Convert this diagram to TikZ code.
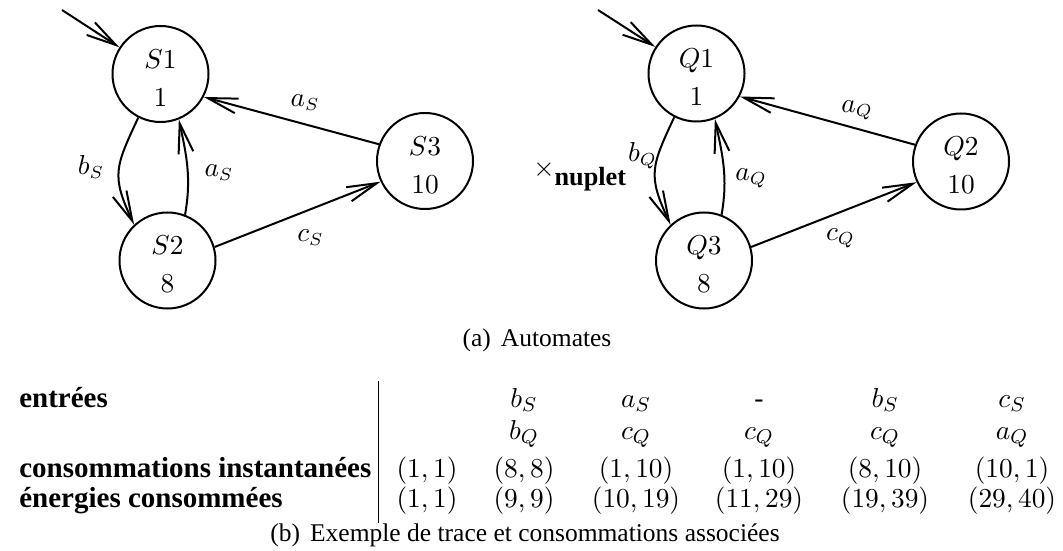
\documentclass[tikz,border=0pt]{standalone}
\usepackage[no-math]{fontspec}
\setmainfont{Liberation Serif}
\usetikzlibrary{arrows.meta}

\begin{document}
\begin{tikzpicture}[x=0.4pt,y=-0.4pt,line width=0.8pt,>={Straight Barb[length=12pt,width=6pt]},
  etat/.style={circle,draw,minimum size=38.4pt,inner sep=0pt,align=center,font=\fontsize{10.5}{15.2}\selectfont},
  lbl/.style={font=\fontsize{10.5}{12.6}\selectfont},
  cell/.style={anchor=base,font=\fontsize{11}{13}\selectfont},
  rowlbl/.style={anchor=base west,font=\fontsize{11.6}{14}\selectfont\bfseries},
  capt/.style={anchor=base,font=\fontsize{10.2}{12}\selectfont}]
  \useasboundingbox (0,0) rectangle (1063,551);
  % automate S
  \node[etat] (S1) at (160.5,74){\rule{0pt}{10.5pt}$S1$\\$1$};
  \node[etat] (S2) at (167.5,260.5){\rule{0pt}{10.5pt}$S2$\\$8$};
  \node[etat] (S3) at (425,161){\rule{0pt}{10.5pt}$S3$\\$10$};
  \coordinate (iS) at (62,10);
  \draw[->] (iS)--(S1);
  \draw[->] (S1.-117) to[out=-115,in=115,looseness=1.3] (S2.133);
  \draw[->] (S2.69.5) to[out=80,in=-78] (S1.-68.5);
  \draw[->] (S3.160)--(S1.-28);
  \draw[->] (S2.16)--(S3.205);
  \node[lbl] (bS) at (91,167){$b_S$};
  \node[lbl] (aS) at (219,172.5){$a_S$};
  \node[lbl] (aS3) at (305,103){$a_S$};
  \node[lbl] (cS) at (310.5,237.5){$c_S$};
  % produit
  \node[lbl,anchor=base west] (prod) at (524,177){$\times_{\textbf{nuplet}}$};
  % automate Q
  \node[etat] (Q1) at (696.5,73.5){\rule{0pt}{10.5pt}$Q1$\\$1$};
  \node[etat] (Q3) at (704,260.5){\rule{0pt}{10.5pt}$Q3$\\$8$};
  \node[etat] (Q2) at (961,161.5){\rule{0pt}{10.5pt}$Q2$\\$10$};
  \coordinate (iQ) at (598,10);
  \draw[->] (iQ)--(Q1);
  \draw[->] (Q1.-117) to[out=-115,in=115,looseness=1.3] (Q3.133);
  \draw[->] (Q3.69.5) to[out=80,in=-78] (Q1.-68.5);
  \draw[->] (Q2.160)--(Q1.-28);
  \draw[->] (Q3.16)--(Q2.205);
  \node[lbl] (bQ) at (642.5,155.5){$b_Q$};
  \node[lbl] (aQ) at (751,178){$a_Q$};
  \node[lbl] (aQ2) at (857,110){$a_Q$};
  \node[lbl] (cQ) at (840.5,238){$c_Q$};
  \node[capt] (capa) at (537,346){(a)\hspace{4pt}Automates};
  % trace
  \node[rowlbl] (le) at (10,407){entrées};
  \node[rowlbl] (lc) at (10,477){consommations instantanées};
  \node[rowlbl] (lg) at (10,507){énergies consommées};
  \coordinate (v0) at (378,381);
  \coordinate (v1) at (378,523);
  \draw[line width=0.4pt] (v0)--(v1);
  \node[cell] (e1) at (524,407){$b_S$};
  \node[cell] (e2) at (636,407){$a_S$};
  \node[cell] (e3) at (759,407){-};
  \node[cell] (e4) at (885,407){$b_S$};
  \node[cell] (e5) at (1012,407){$c_S$};
  \node[cell] (f1) at (524,439){$b_Q$};
  \node[cell] (f2) at (636,439){$c_Q$};
  \node[cell] (f3) at (759,439){$c_Q$};
  \node[cell] (f4) at (885,439){$c_Q$};
  \node[cell] (f5) at (1012,439){$a_Q$};
  \node[cell] (c0) at (427,477){$(1,1)$};
  \node[cell] (c1) at (524,477){$(8,8)$};
  \node[cell] (c2) at (636,477){$(1,10)$};
  \node[cell] (c3) at (759,477){$(1,10)$};
  \node[cell] (c4) at (885,477){$(8,10)$};
  \node[cell] (c5) at (1012,477){$(10,1)$};
  \node[cell] (g0) at (427,507){$(1,1)$};
  \node[cell] (g1) at (524,507){$(9,9)$};
  \node[cell] (g2) at (636,507){$(10,19)$};
  \node[cell] (g3) at (759,507){$(11,29)$};
  \node[cell] (g4) at (885,507){$(19,39)$};
  \node[cell] (g5) at (1012,507){$(29,40)$};
  \node[capt] (capb) at (525,541){(b)\hspace{4pt}Exemple de trace et consommations associées};
\end{tikzpicture}
\end{document}
